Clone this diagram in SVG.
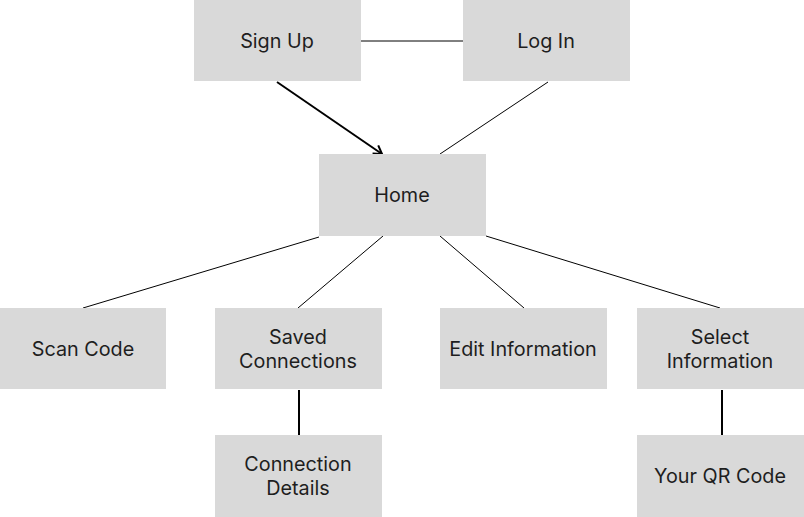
<svg xmlns="http://www.w3.org/2000/svg" width="804" height="517" viewBox="0 0 804 517">
<defs>
<style>
.box{fill:#d9d9d9}
.t{font-family:Inter,"Noto Sans",sans-serif;font-size:19.8px;fill:#1e1e1e;text-anchor:middle;dominant-baseline:central}
.c{stroke:#000;fill:none}
</style>
<marker id="arr" markerWidth="12" markerHeight="12" refX="10" refY="6" orient="auto" markerUnits="userSpaceOnUse">
<path d="M2,1 L10,6 L2,11" fill="none" stroke="#000" stroke-width="2"/>
</marker>
</defs>
<rect width="804" height="517" fill="#fff"/>
<g id="connectors">
<line class="c" x1="361" y1="41" x2="463" y2="41" stroke-width="1"/>
<line class="c" x1="277" y1="82" x2="382" y2="154" stroke-width="2" marker-end="url(#arr)"/>
<line class="c" x1="548" y1="82" x2="440" y2="154" stroke-width="1"/>
<line class="c" x1="319" y1="237" x2="83" y2="308" stroke-width="1"/>
<line class="c" x1="383" y1="236" x2="298" y2="308" stroke-width="1"/>
<line class="c" x1="440" y1="236" x2="524" y2="308" stroke-width="1"/>
<line class="c" x1="486" y1="236" x2="720" y2="308" stroke-width="1"/>
<line class="c" x1="299" y1="390" x2="299" y2="435" stroke-width="2"/>
<line class="c" x1="722" y1="390" x2="722" y2="435" stroke-width="2"/>
</g>
<g id="signup"><rect class="box" x="194" y="0" width="167" height="81"/><text class="t" x="277" y="41">Sign Up</text></g>
<g id="login"><rect class="box" x="463" y="0" width="167" height="81"/><text class="t" x="546" y="41">Log In</text></g>
<g id="home"><rect class="box" x="319" y="154" width="167" height="82"/><text class="t" x="402" y="195">Home</text></g>
<g id="scan"><rect class="box" x="0" y="308" width="166" height="81"/><text class="t" x="83" y="349">Scan Code</text></g>
<g id="saved"><rect class="box" x="215" y="308" width="167" height="81"/><text class="t" x="298" y="337">Saved</text><text class="t" x="298" y="361">Connections</text></g>
<g id="edit"><rect class="box" x="440" y="308" width="167" height="81"/><text class="t" x="523" y="349">Edit Information</text></g>
<g id="select"><rect class="box" x="637" y="308" width="167" height="81"/><text class="t" x="720" y="337">Select</text><text class="t" x="720" y="361">Information</text></g>
<g id="details"><rect class="box" x="215" y="435" width="167" height="82"/><text class="t" x="298" y="464">Connection</text><text class="t" x="298" y="488">Details</text></g>
<g id="qr"><rect class="box" x="637" y="435" width="167" height="82"/><text class="t" x="720" y="476">Your QR Code</text></g>
</svg>
